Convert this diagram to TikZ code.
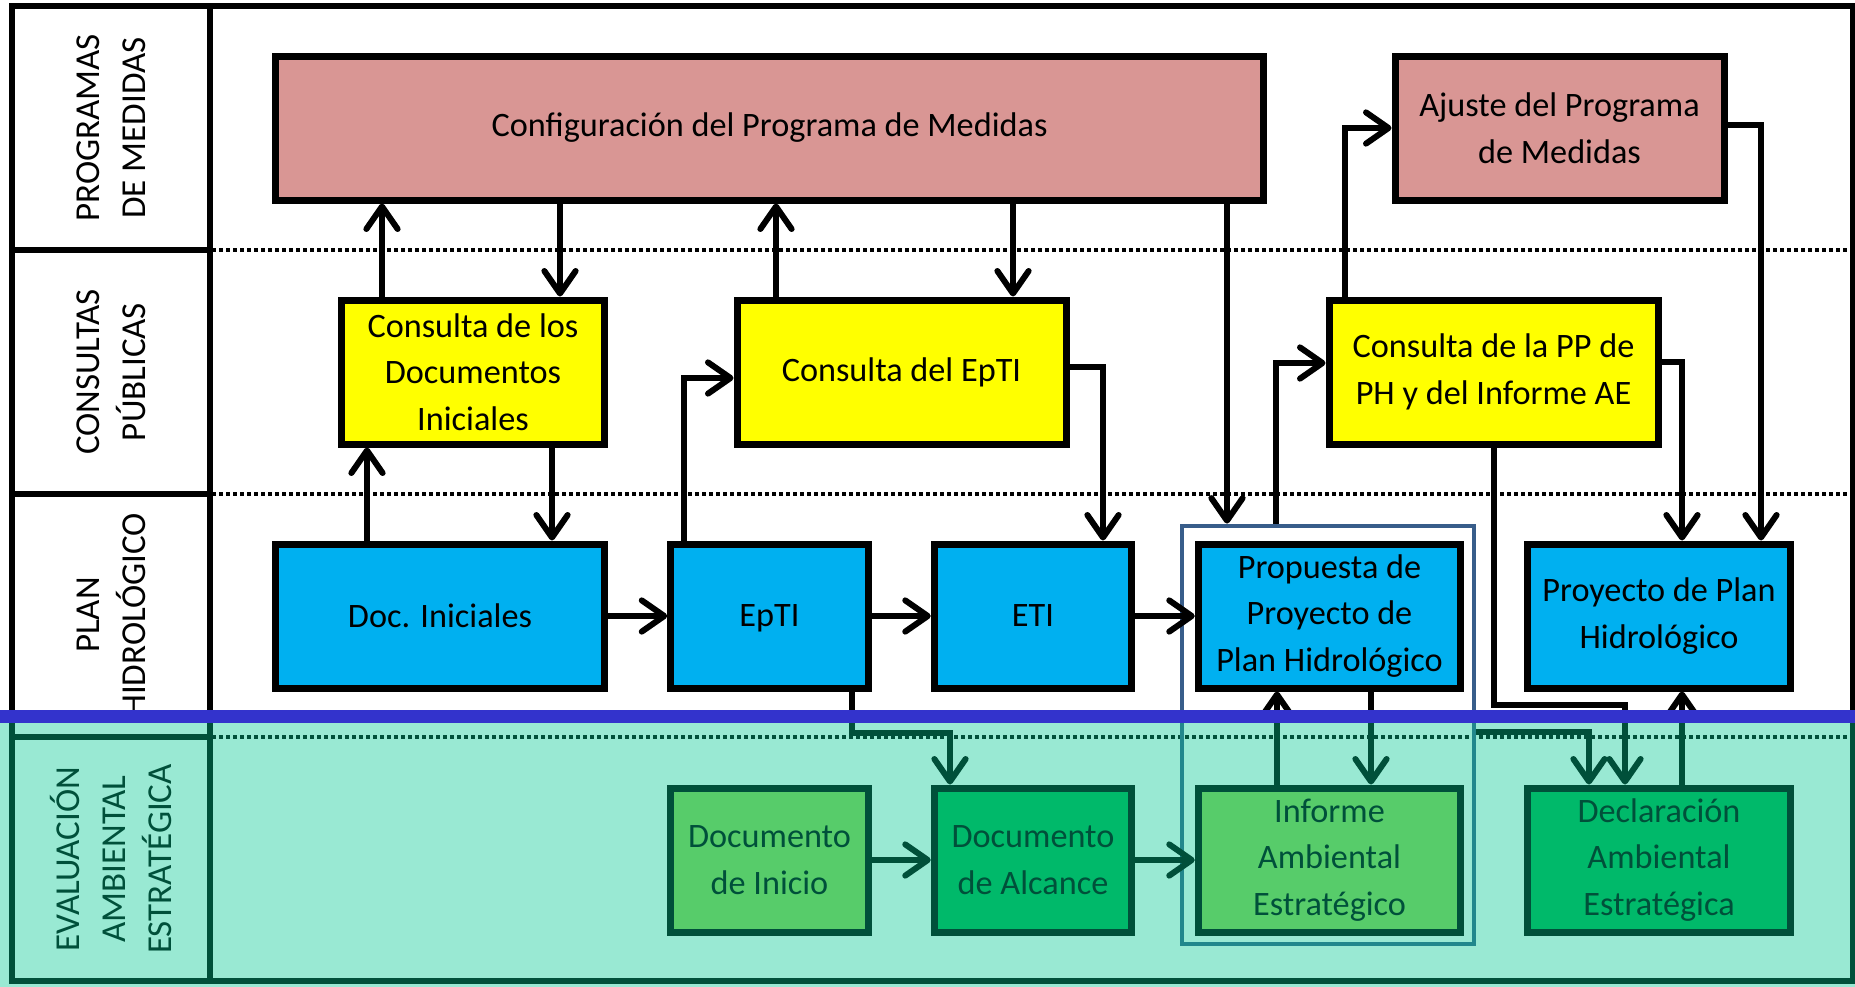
\documentclass[tikz,border=0pt]{standalone}
\usepackage{fontspec}
\setmainfont{Carlito}
\usetikzlibrary{arrows.meta}
\definecolor{pinkc}{RGB}{217,150,148}
\definecolor{yel}{RGB}{255,255,0}
\definecolor{bluec}{RGB}{0,176,240}
\definecolor{lgreen}{RGB}{146,208,80}
\definecolor{dgreen}{RGB}{0,176,80}
\definecolor{ovl}{RGB}{0,200,145}
\definecolor{bline}{RGB}{51,51,204}
\definecolor{outl}{RGB}{56,93,138}
\begin{document}
\begin{tikzpicture}[x=0.4pt,y=-0.4pt,
  box/.style={draw=black, line width=2.8pt, inner sep=0pt, align=center, minimum height=57.6pt, font=\fontsize{13.7}{18.7}\selectfont},
  wL/.style={minimum width=131.6pt},
  wM/.style={minimum width=105pt},
  wS/.style={minimum width=79pt},
  arr/.style={line width=2.4pt, -{Straight Barb[length=9pt,width=12.5pt,round]}},
  lanelabel/.style={rotate=90, align=center, font=\fontsize{14}{18.4}\selectfont},
  lanesep/.style={line width=1.4pt, dash pattern=on 1.5pt off 1.3pt},
  frameline/.style={line width=2.6pt},
]
\fill[white] (0,0) rectangle (1855,987);
\useasboundingbox (0,0) rectangle (1855,987);

% lane separators (dotted)
\foreach \yy in {250,494,737} \draw[lanesep] (212,\yy) -- (1855,\yy);

% frame
\draw[frameline] (12,6) rectangle (1853,981);
\draw[frameline] (210,6) -- (210,981);
\foreach \yy in {250,494,737} \draw[frameline] (12,\yy) -- (210,\yy);

% lane labels
\node[lanelabel] (l1) at (111,128) {PROGRAMAS\\DE MEDIDAS};
\node[lanelabel] (l2) at (111,372) {CONSULTAS\\PÚBLICAS};
\node[lanelabel] (l3) at (111,615) {PLAN\\HIDROLÓGICO};
\node[lanelabel] (l4) at (111,859) {EVALUACIÓN\\AMBIENTAL\\ESTRATÉGICA};

% boxes
\node[box, fill=pinkc, minimum width=394.8pt] (pink) at (769.5,128) {Configuración del Programa de Medidas};
\node[box, wL, fill=pinkc] (ajuste) at (1559.5,128) {Ajuste del Programa\\de Medidas};
\node[box, wM, fill=yel] (y1) at (473,372) {Consulta de los\\Documentos\\Iniciales};
\node[box, wL, fill=yel] (y2) at (901.5,372) {Consulta del EpTI};
\node[box, wL, fill=yel] (y3) at (1493.5,372) {Consulta de la PP de\\PH y del Informe AE};
\node[box, wL, fill=bluec] (docini) at (440,616) {Doc. Iniciales};
\node[box, wS, fill=bluec] (epti) at (769.5,616) {\raisebox{0pt}[\height][0pt]{EpTI}};
\node[box, wS, fill=bluec] (eti) at (1033,616) {ETI};
\node[box, wM, fill=bluec] (prop) at (1329.5,616) {Propuesta de\\Proyecto de\\Plan Hidrológico};
\node[box, wM, fill=bluec] (proy) at (1659,616) {Proyecto de Plan\\Hidrológico};
\node[box, wS, fill=lgreen] (dini) at (769.5,860) {Documento\\de Inicio};
\node[box, wS, fill=dgreen] (dalc) at (1033,860) {Documento\\de Alcance};
\node[box, wM, fill=lgreen] (inf) at (1329.5,860) {Informe\\Ambiental\\Estratégico};
\node[box, wM, fill=dgreen] (decl) at (1659,860) {Declaración\\Ambiental\\Estratégica};

% group outline
\node[draw=outl, line width=1.9pt, minimum width=116.8pt, minimum height=167.2pt, inner sep=0pt] (grp) at (1328,735) {};

% helper coordinates
\foreach \xx in {367,382,552,560,684,776,852,950,1013,1103,1227,1276,1277,1345,1371,1494,1589,1625,1682,1761}
  \coordinate (X\xx) at (\xx,0);
\coordinate (Y705) at (0,705);
\coordinate (Y732) at (0,732);
\coordinate (Y733) at (0,733);

% connectors
\draw[arr] (X382 |- y1.north) -- (X382 |- pink.south);
\draw[arr] (X560 |- pink.south) -- (X560 |- y1.north);
\draw[arr] (X367 |- docini.north) -- (X367 |- y1.south);
\draw[arr] (X552 |- y1.south) -- (X552 |- docini.north);
\draw[arr] (docini.east) -- (epti.west);
\draw[arr] (X684 |- epti.north) |- ([yshift=-2.4pt]y2.west);
\draw[arr] (X776 |- y2.north) -- (X776 |- pink.south);
\draw[arr] (X1013 |- pink.south) -- (X1013 |- y2.north);
\draw[arr] ([yshift=2pt]y2.east) -| (X1103 |- eti.north);
\draw[arr] (epti.east) -- (eti.west);
\draw[arr] (eti.east) -- (prop.west);
\draw[arr] (X1227 |- pink.south) -- (X1227 |- grp.north);
\draw[arr] (X1276 |- grp.north) |- ([yshift=3.6pt]y3.west);
\draw[arr] (X1345 |- y3.north) |- (ajuste.west);
\draw[arr] ([yshift=1.2pt]ajuste.east) -| (X1761 |- proy.north);
\draw[arr] ([yshift=4pt]y3.east) -| (X1682 |- proy.north);
\draw[arr] (X1494 |- y3.south) -- (X1494 |- Y705) -| (X1625 |- decl.north);
\draw[arr] (grp.east |- Y732) -| (X1589 |- decl.north);
\draw[arr] (X1682 |- decl.north) -- (X1682 |- proy.south);
\draw[arr] (X852 |- epti.south) -- (X852 |- Y733) -| (X950 |- dalc.north);
\draw[arr] (dini.east) -- (dalc.west);
\draw[arr] (dalc.east) -- (inf.west);
\draw[arr] (X1277 |- inf.north) -- (X1277 |- prop.south);
\draw[arr] (X1371 |- prop.south) -- (X1371 |- inf.north);

% overlay and blue band
\fill[ovl, fill opacity=0.4] (0,722) rectangle (1855,987);
\draw[bline, line width=5.2pt] (0,716) -- (1855,716);
\end{tikzpicture}
\end{document}
